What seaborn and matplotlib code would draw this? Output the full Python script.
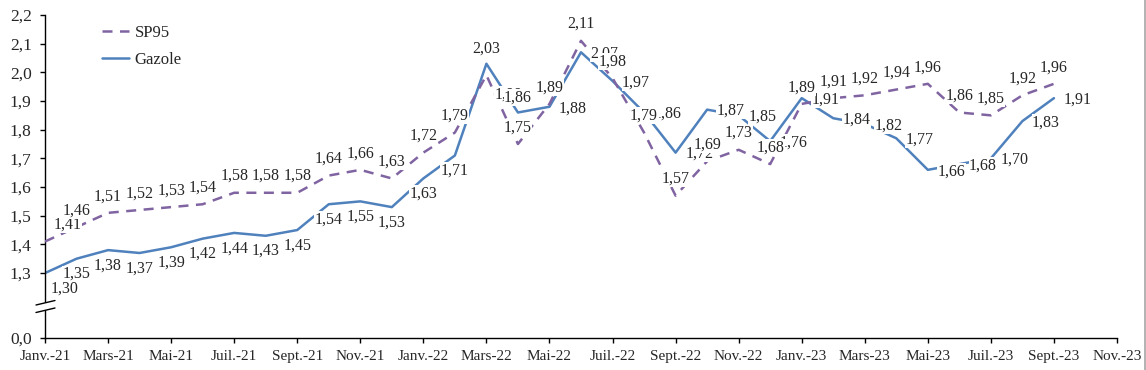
import matplotlib
matplotlib.use("Agg")
import matplotlib.pyplot as plt
from matplotlib.lines import Line2D
from matplotlib.patches import Polygon
import numpy as np
import pandas as pd
import seaborn as sns

# ---------------- data ----------------
months = ["Janv.-21", "Févr.-21", "Mars-21", "Avr.-21", "Mai-21", "Juin-21",
          "Juil.-21", "Août-21", "Sept.-21", "Oct.-21", "Nov.-21", "Déc.-21",
          "Janv.-22", "Févr.-22", "Mars-22", "Avr.-22", "Mai-22", "Juin-22",
          "Juil.-22", "Août-22", "Sept.-22", "Oct.-22", "Nov.-22", "Déc.-22",
          "Janv.-23", "Févr.-23", "Mars-23", "Avr.-23", "Mai-23", "Juin-23",
          "Juil.-23", "Août-23", "Sept.-23"]
sp95 = [1.41, 1.46, 1.51, 1.52, 1.53, 1.54, 1.58, 1.58, 1.58, 1.64, 1.66, 1.63,
        1.72, 1.79, 1.99, 1.75, 1.89, 2.11, 1.98, 1.79, 1.57, 1.69, 1.73, 1.68,
        1.89, 1.91, 1.92, 1.94, 1.96, 1.86, 1.85, 1.92, 1.96]
gazole = [1.30, 1.35, 1.38, 1.37, 1.39, 1.42, 1.44, 1.43, 1.45, 1.54, 1.55, 1.53,
          1.63, 1.71, 2.03, 1.86, 1.88, 2.07, 1.97, 1.86, 1.72, 1.87, 1.85, 1.76,
          1.91, 1.84, 1.82, 1.77, 1.66, 1.68, 1.70, 1.83, 1.91]
tick_labels = ["Janv.-21", "Mars-21", "Mai-21", "Juil.-21", "Sept.-21", "Nov.-21",
               "Janv.-22", "Mars-22", "Mai-22", "Juil.-22", "Sept.-22", "Nov.-22",
               "Janv.-23", "Mars-23", "Mai-23", "Juil.-23", "Sept.-23", "Nov.-23"]
y_ticks = [1.3, 1.4, 1.5, 1.6, 1.7, 1.8, 1.9, 2.0, 2.1, 2.2]

# ---------------- style ----------------
sns.set_style("white")
plt.rcParams["font.family"] = ["Liberation Serif", "DejaVu Serif"]

BLUE = "#4F81BD"
PURPLE = "#8064A2"

df = pd.DataFrame({"idx": np.arange(len(months)), "mois": months,
                   "SP95": sp95, "Gazole": gazole})

fig = plt.figure(figsize=(11.46, 3.70), dpi=100)
ax = fig.add_axes([45 / 1146, 32 / 370, 1072 / 1146, 323 / 370])

sns.lineplot(data=df, x="idx", y="SP95", ax=ax, color=PURPLE, lw=1.8, zorder=3)
ax.lines[-1].set_dashes((4, 3))
sns.lineplot(data=df, x="idx", y="Gazole", ax=ax, color=BLUE, lw=1.8, zorder=2)

y_bottom = 1.0735
ax.set_xlim(0, 34)
ax.set_ylim(y_bottom, 2.2)

ax.set_xticks(np.arange(0, 35, 2))
ax.set_xticklabels(tick_labels, fontsize=11)
ax.set_yticks(y_ticks + [y_bottom])
ax.set_yticklabels([f"{v:.1f}".replace(".", ",") for v in y_ticks] + ["0,0"],
                   fontsize=12.5)
ax.set_xlabel("")
ax.set_ylabel("")
ax.tick_params(axis="both", direction="out", length=3.6, width=1, color="black",
               left=True, bottom=True)
ax.tick_params(axis="y", pad=6)
ax.tick_params(axis="x", pad=5)
for s in ["top", "right"]:
    ax.spines[s].set_visible(False)
for s in ["left", "bottom"]:
    ax.spines[s].set_color("black")
    ax.spines[s].set_linewidth(1)

# ---------------- data labels ----------------
def fmt(v):
    return f"{v:.2f}".replace(".", ",")

def lab(txt, xy, off, z):
    ax.annotate(txt, xy, xytext=off, textcoords="offset points", fontsize=11.5,
                ha="center", va="center", zorder=z,
                bbox=dict(fc="white", ec="none", pad=0.3))

n = len(months)
# sp95 labels
for i in range(n):
    v = sp95[i]
    if i == 14:
        off = (16, -14)
    else:
        off = (16 if i == 0 else 0, 12)
    lab(fmt(v), (i, v), off, 5)
# gazole labels
for i in range(n):
    v = gazole[i]
    z = 4
    if i < 14:
        off = (14 if i == 0 else 0, -11)
    elif i in (14, 15):
        off = (0, 11)
        z = 6
    else:
        off = (17, -1)
    lab(fmt(v), (i, v), off, z)

# ---------------- legend ----------------
handles = [Line2D([], [], color=PURPLE, lw=1.8, dashes=(4, 3)),
           Line2D([], [], color=BLUE, lw=1.8)]
ax.legend(handles, ["SP95", "Gazole"], loc="upper left",
          bbox_to_anchor=(57 / 1072, (338 - 25) / 323), frameon=False,
          fontsize=12, handlelength=1.6, handletextpad=0.35, labelspacing=0.68,
          borderaxespad=0, borderpad=0)

# ---------------- axis break marks ----------------
tr = ax.transAxes
x0, x1 = -9 / 1072, 10 / 1072
ya, yb = (338 - 305) / 323, (338 - 300.5) / 323
yc, yd = (338 - 312.5) / 323, (338 - 308) / 323
ax.add_patch(Polygon([(x0, ya), (x1, yb), (x1, yd), (x0, yc)], closed=True,
                     transform=tr, fc="white", ec="none", clip_on=False, zorder=6))
ax.plot([x0, x1], [ya, yb], transform=tr, color="black", lw=1, clip_on=False, zorder=7)
ax.plot([x0, x1], [yc, yd], transform=tr, color="black", lw=1, clip_on=False, zorder=7)

# right border line of the figure
fig.add_artist(Line2D([1144.5 / 1146] * 2, [0, 1], transform=fig.transFigure,
                      color="#a6a6a6", lw=1.2))

fig.savefig("out.png", dpi=100)
